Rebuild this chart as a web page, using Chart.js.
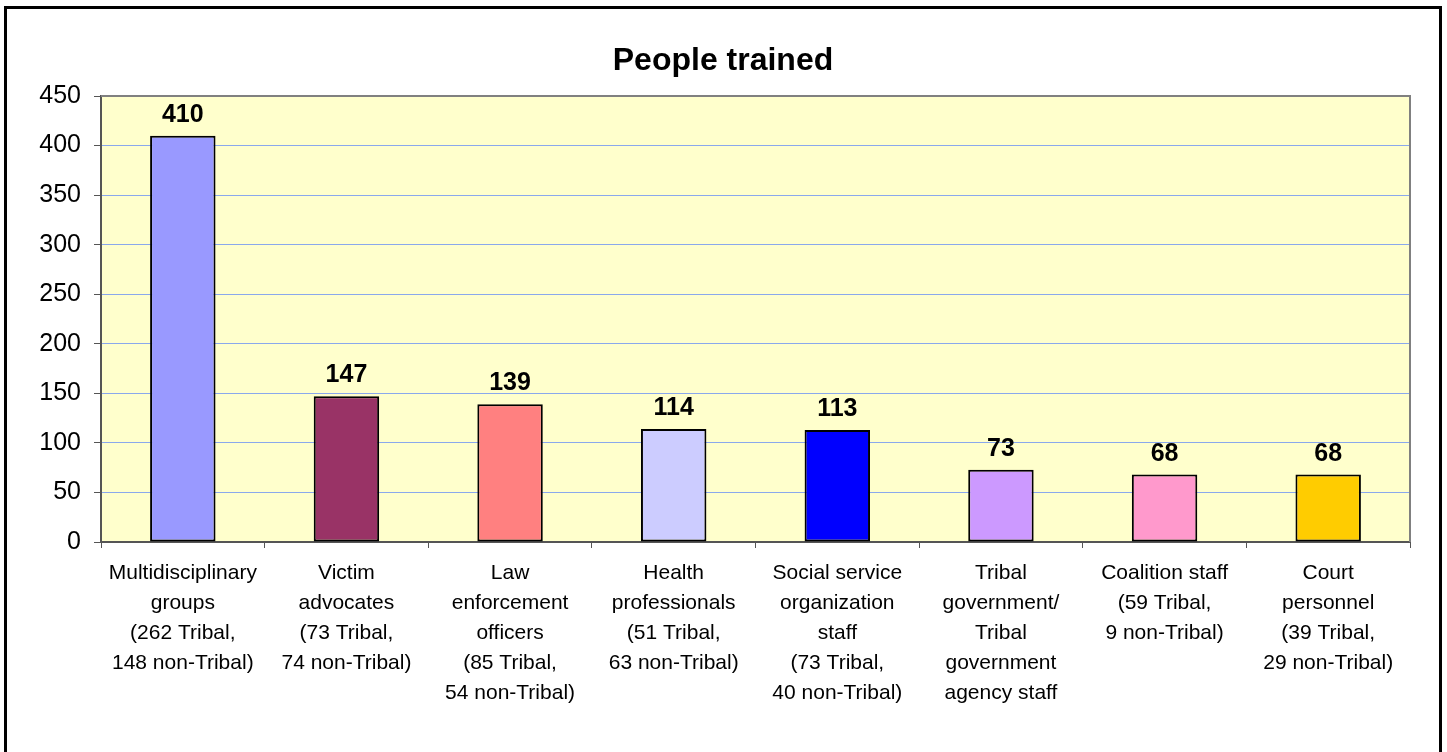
<!DOCTYPE html>
<html>
<head>
<meta charset="utf-8">
<script src="https://cdn.jsdelivr.net/npm/chart.js@4/dist/chart.umd.min.js"></script>
<style>
  html, body { margin: 0; padding: 0; background: #ffffff; }
  #wrap { width: 1447px; height: 752px; position: relative; }
</style>
</head>
<body>
<div id="wrap"><canvas id="c" width="1447" height="752"></canvas></div>
<script>
const chartTitle = "People trained";
const categories = [
  ["Multidisciplinary", "groups", "(262 Tribal,", "148 non-Tribal)"],
  ["Victim", "advocates", "(73 Tribal,", "74 non-Tribal)"],
  ["Law", "enforcement", "officers", "(85 Tribal,", "54 non-Tribal)"],
  ["Health", "professionals", "(51 Tribal,", "63 non-Tribal)"],
  ["Social service", "organization", "staff", "(73 Tribal,", "40 non-Tribal)"],
  ["Tribal", "government/", "Tribal", "government", "agency staff"],
  ["Coalition staff", "(59 Tribal,", "9 non-Tribal)"],
  ["Court", "personnel", "(39 Tribal,", "29 non-Tribal)"]
];
const peopleTrained = [410, 147, 139, 114, 113, 73, 68, 68];
const barColors = ["#9999FF", "#993366", "#FF8080", "#CCCCFF", "#0000FF", "#CC99FF", "#FF99CC", "#FFCC00"];
const yMin = 0, yMax = 450, yStep = 50;

const FONT = "'Liberation Sans', Arial, Helvetica, sans-serif";

const framePlugin = {
  id: 'frame',
  beforeDraw(chart) {
    const ctx = chart.ctx;
    const a = chart.chartArea;
    ctx.save();
    ctx.fillStyle = '#ffffff';
    ctx.fillRect(0, 0, chart.width, chart.height);
    ctx.strokeStyle = '#000000';
    ctx.lineWidth = 3;
    ctx.strokeRect(5.5, 7.5, 1435, 760);
    ctx.fillStyle = '#FFFFCC';
    ctx.fillRect(a.left, a.top, a.right - a.left, a.bottom - a.top);
    ctx.restore();
  },
  afterDatasetsDraw(chart) {
    const ctx = chart.ctx;
    const a = chart.chartArea;
    ctx.save();
    ctx.strokeStyle = '#808080';
    ctx.lineWidth = 2;
    ctx.beginPath();
    ctx.moveTo(a.left, a.top);
    ctx.lineTo(a.right, a.top);
    ctx.lineTo(a.right, a.bottom);
    ctx.stroke();
    // data labels
    ctx.fillStyle = '#000000';
    ctx.font = "bold 25px " + FONT;
    ctx.textAlign = 'center';
    ctx.textBaseline = 'alphabetic';
    const meta = chart.getDatasetMeta(0);
    meta.data.forEach((bar, i) => {
      ctx.fillText(String(chart.data.datasets[0].data[i]), bar.x, bar.y - 14);
    });
    ctx.restore();
  }
};

new Chart(document.getElementById('c'), {
  type: 'bar',
  data: {
    labels: categories,
    datasets: [{
      data: peopleTrained,
      backgroundColor: barColors,
      borderColor: '#000000',
      borderWidth: 2,
      borderSkipped: false,
      barPercentage: 0.4,
      categoryPercentage: 1.0
    }]
  },
  options: {
    responsive: false,
    animation: false,
    devicePixelRatio: 1,
    layout: { padding: { left: 36, right: 37, top: 0, bottom: 0 } },
    plugins: {
      legend: { display: false },
      tooltip: { enabled: false },
      title: {
        display: true,
        text: chartTitle,
        color: '#000000',
        font: { family: FONT, size: 32, weight: 'bold', lineHeight: 1.2 },
        padding: { top: 42, bottom: 15.6 }
      }
    },
    scales: {
      x: {
        afterFit(scale) { scale.height = 210; },
        grid: {
          offset: true,
          drawOnChartArea: false,
          drawTicks: true,
          tickLength: 6,
          color: '#555555',
          tickColor: '#555555'
        },
        border: { display: true, color: '#555555', width: 2 },
        ticks: {
          autoSkip: false,
          maxRotation: 0,
          minRotation: 0,
          padding: 10,
          color: '#000000',
          font: { family: FONT, size: 21, lineHeight: 1.43 }
        }
      },
      y: {
        min: yMin,
        max: yMax,
        afterFit(scale) { scale.width = 65; },
        grid: {
          color: '#8AA8EC',
          lineWidth: 1,
          drawTicks: true,
          tickLength: 7,
          tickColor: '#555555'
        },
        border: { display: true, color: '#555555', width: 2 },
        ticks: {
          stepSize: yStep,
          padding: 13,
          color: '#000000',
          font: { family: FONT, size: 25 }
        }
      }
    }
  },
  plugins: [framePlugin]
});
</script>
</body>
</html>
